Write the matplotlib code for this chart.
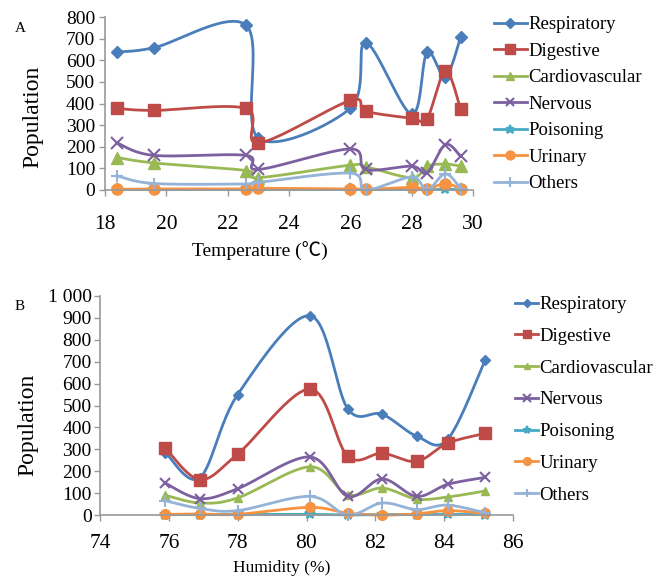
import numpy as np
import matplotlib
matplotlib.use("Agg")
import matplotlib.pyplot as plt

plt.rcParams['font.family'] = ['Liberation Serif', 'Noto Sans CJK SC', 'DejaVu Sans']

series = ['Respiratory', 'Digestive', 'Cardiovascular', 'Nervous', 'Poisoning', 'Urinary', 'Others']
colors = ['#4A7EBB', '#BE4B48', '#98B954', '#7D60A0', '#46AAC5', '#F69240', '#95B3D7']
markers = ['D', 's', '^', 'x', '*', 'o', '+']

# panel A: temperature
temp = [18.4, 19.6, 22.6, 23.0, 26.0, 26.5, 28.0, 28.5, 29.1, 29.6]
respiratory_a = [638, 658, 762, 240, 378, 682, 350, 636, 523, 709]
digestive_a = [377, 368, 377, 217, 414, 364, 332, 330, 550, 373]
cardio_a = [150, 125, 90, 57, 115, 108, 57, 110, 120, 110]
nervous_a = [217, 160, 160, 95, 190, 95, 110, 80, 210, 155]
poisoning_a = [3, 3, 3, 3, 3, 2, 3, 2, 3, 3]
urinary_a = [3, 5, 5, 8, 5, 3, 12, 5, 30, 5]
others_a = [65, 30, 28, 35, 78, 0, 60, 0, 75, 5]

# panel B: humidity
humid = [75.9, 76.9, 78.0, 80.1, 81.2, 82.2, 83.2, 84.1, 85.2]
respiratory_b = [285, 170, 550, 910, 485, 460, 360, 345, 710]
digestive_b = [305, 162, 278, 575, 268, 282, 245, 328, 373]
cardio_b = [90, 55, 78, 220, 93, 123, 73, 82, 110]
nervous_b = [145, 75, 120, 265, 85, 165, 85, 140, 172]
poisoning_b = [2, 2, 2, 3, 0, 2, 2, 3, 2]
urinary_b = [3, 5, 3, 35, 8, 0, 5, 20, 8]
others_b = [65, 30, 20, 85, 0, 55, 25, 45, 10]

data_a = [respiratory_a, digestive_a, cardio_a, nervous_a, poisoning_a, urinary_a, others_a]
data_b = [respiratory_b, digestive_b, cardio_b, nervous_b, poisoning_b, urinary_b, others_b]


def smooth(ax, x, y, n=30):
    # Excel-like smoothed line: cubic Bezier in screen space
    pts = ax.transData.transform(np.column_stack([x, y]))
    p = np.vstack([pts[0], pts, pts[-1]])
    out = []
    t = np.linspace(0, 1, n)[:, None]
    for i in range(1, len(p) - 2):
        p0, p1 = p[i], p[i + 1]
        c1 = p0 + (p[i + 1] - p[i - 1]) / 6
        c2 = p1 - (p[i + 2] - p[i]) / 6
        seg = ((1 - t) ** 3) * p0 + 3 * ((1 - t) ** 2) * t * c1 + 3 * (1 - t) * t ** 2 * c2 + t ** 3 * p1
        out.append(seg)
    out = np.vstack(out)
    d = ax.transData.inverted().transform(out)
    return d[:, 0], d[:, 1]


W, H = 665, 577
fig = plt.figure(figsize=(W / 100, H / 100), dpi=100)


def px_axes(l, r, t, b):
    return fig.add_axes([l / W, 1 - b / H, (r - l) / W, (b - t) / H])


def style(ax):
    for s in ['top', 'right']:
        ax.spines[s].set_visible(False)
    for s in ['left', 'bottom']:
        ax.spines[s].set_color('#999999')
        ax.spines[s].set_linewidth(1.2)
    ax.tick_params(color='#999999', length=4, width=1)


def draw(ax, x, data, msizes, lw):
    handles = []
    for vals, name, c, m, ms in zip(data, series, colors, markers, msizes):
        sx, sy = smooth(ax, x, vals)
        ax.plot(sx, sy, color=c, lw=lw, solid_capstyle='round', clip_on=False)
        ax.plot(x, vals, linestyle='none', marker=m, color=c, ms=ms,
                mew=1.5 if m in 'x*+' else 1, clip_on=False)
        h, = ax.plot([], [], color=c, lw=lw, marker=m, ms=ms * 0.8,
                     mew=1.5 if m in 'x*+' else 1, label=name)
        handles.append(h)
    return handles


# ---- panel A
axA = px_axes(105, 473, 17, 190)
axA.set_xlim(18, 30)
axA.set_ylim(0, 800)
style(axA)
hA = draw(axA, temp, data_a, [6.5, 9, 8, 8, 8, 8, 9], 2)
axA.set_xticks(range(18, 31, 2))
axA.set_yticks(range(0, 801, 100))
axA.tick_params(axis='y', labelsize=14, pad=3)
axA.tick_params(axis='x', labelsize=15.5, pad=14)
axA.set_ylabel('Population', fontsize=17)
axA.yaxis.set_label_coords(-0.168, 0.42)
axA.set_xlabel('Temperature (℃)', fontsize=14)
axA.xaxis.set_label_coords(0.42, -0.3)
fig.text(15 / W, 1 - 28 / H, 'A', fontsize=11, va='center')
fig.legend(handles=hA, loc='upper left', bbox_to_anchor=(494 / W, 1 - 16 / H),
           frameon=False, fontsize=13.5, handlelength=1.75, handletextpad=0.1,
           labelspacing=0.5, borderpad=0, borderaxespad=0)

# ---- panel B
axB = px_axes(100, 513, 296, 515)
axB.set_xlim(74, 86)
axB.set_ylim(0, 1000)
style(axB)
hB = draw(axB, humid, data_b, [5, 8, 6, 7, 7, 7, 8], 2)
axB.set_xticks(range(74, 87, 2))
axB.set_yticks(range(0, 1001, 100))
axB.set_yticklabels([str(v) if v < 1000 else '1 000' for v in range(0, 1001, 100)])
axB.tick_params(axis='y', labelsize=14, pad=2)
axB.tick_params(axis='x', labelsize=15.5, pad=10)
axB.set_ylabel('Population', fontsize=17)
axB.yaxis.set_label_coords(-0.15, 0.41)
axB.set_xlabel('Humidity (%)', fontsize=12.5)
axB.xaxis.set_label_coords(0.44, -0.205)
fig.text(15 / W, 1 - 307 / H, 'B', fontsize=11, va='center')
fig.legend(handles=hB, loc='upper left', bbox_to_anchor=(515 / W, 1 - 296 / H),
           frameon=False, fontsize=13.5, handlelength=1.25, handletextpad=0.05,
           labelspacing=0.78, borderpad=0, borderaxespad=0)

fig.savefig('out.png', dpi=100)
